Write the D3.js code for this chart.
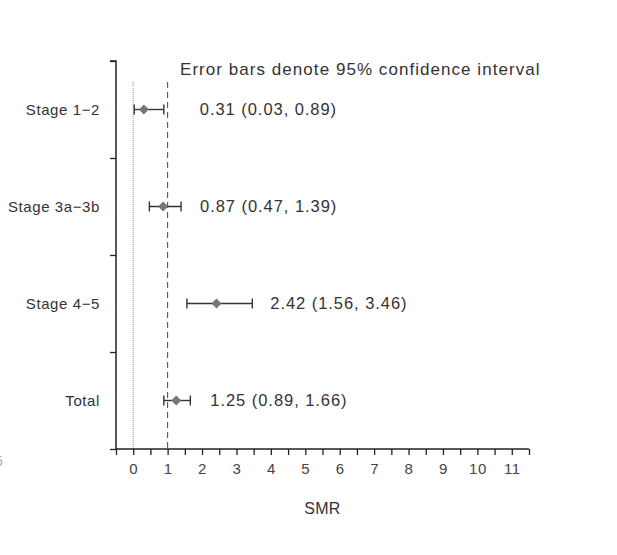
<!DOCTYPE html>
<html><head><meta charset="utf-8">
<script src="https://cdn.jsdelivr.net/npm/d3@7"></script>
<style>body{margin:0;background:#fff;}svg{display:block;font-family:"Liberation Sans",Arial,sans-serif;}</style>
</head><body><svg id="c" width="617" height="555"></svg>
<script>
const categories = ["Stage 1\u22122", "Stage 3a\u22123b", "Stage 4\u22125", "Total"];
const smr = [0.31, 0.87, 2.42, 1.25];
const lower = [0.03, 0.47, 1.56, 0.89];
const upper = [0.89, 1.39, 3.46, 1.66];
const valueLabels = ["0.31 (0.03, 0.89)", "0.87 (0.47, 1.39)", "2.42 (1.56, 3.46)", "1.25 (0.89, 1.66)"];
const xTickLabels = [0,1,2,3,4,5,6,7,8,9,10,11];
const labelGap = [36, 19, 18, 20];

const svg = d3.select("#c");
const x = d3.scaleLinear().domain([-0.5, 11.5]).range([116, 529]);
const y = d3.scaleBand().domain(categories).range([61, 449]);

// reference lines
svg.append("line").attr("x1", x(0)).attr("x2", x(0)).attr("y1", 82).attr("y2", 449)
  .attr("stroke", "#999").attr("stroke-width", 1).attr("stroke-dasharray", "1,1");
svg.append("line").attr("x1", x(1)).attr("x2", x(1)).attr("y1", 82).attr("y2", 449)
  .attr("stroke", "#444").attr("stroke-width", 1).attr("stroke-dasharray", "6,4");

// x axis
const xAxis = d3.axisBottom(x).tickValues(d3.range(-0.5, 11.51, 0.5)).tickSize(6)
  .tickFormat(d => xTickLabels.includes(d) ? d : "");
const gx = svg.append("g").attr("transform", "translate(0,449)").call(xAxis);
gx.select(".domain").attr("stroke", "#222").attr("stroke-width", 1.5).attr("d", `M${x(-0.5)},0H${x(11.5)}`);
gx.selectAll(".tick line").attr("stroke", "#222").attr("stroke-width", 1.3);
gx.selectAll(".tick text").attr("font-size", 15).attr("letter-spacing", 0.6).attr("fill", "#444").attr("dy", "1.05em").attr("font-family", "Liberation Sans, Arial, sans-serif");

// y axis
const yAxis = d3.axisLeft(d3.scaleLinear().domain([0, 4]).range([61, 449])).ticks(4).tickSize(6).tickFormat("");
const gy = svg.append("g").attr("transform", "translate(116,0)").call(yAxis);
gy.select(".domain").attr("stroke", "#222").attr("stroke-width", 1.5).attr("d", "M-6,61H0V449");
gy.selectAll(".tick line").attr("stroke", "#222").attr("stroke-width", 1.3);

// category labels
svg.selectAll(".cat").data(categories).join("text")
  .attr("x", 100).attr("y", d => y(d) + y.bandwidth()/2).attr("dy", "0.35em")
  .attr("text-anchor", "end").attr("font-size", 15).attr("letter-spacing", 0.6).attr("fill", "#333").text(d => d);

const rows = categories.map((c, i) => ({c, m: smr[i], lo: lower[i], hi: upper[i], lab: valueLabels[i], gap: labelGap[i]}));
const g = svg.append("g");
const cy = d => y(d.c) + y.bandwidth()/2;
g.selectAll(".eb").data(rows).join("line")
  .attr("x1", d => x(d.lo)).attr("x2", d => x(d.hi)).attr("y1", cy).attr("y2", cy)
  .attr("stroke", "#333").attr("stroke-width", 1.4);
g.selectAll(".capl").data(rows).join("line")
  .attr("x1", d => x(d.lo)).attr("x2", d => x(d.lo)).attr("y1", d => cy(d) - 5).attr("y2", d => cy(d) + 5)
  .attr("stroke", "#333").attr("stroke-width", 1.4);
g.selectAll(".caph").data(rows).join("line")
  .attr("x1", d => x(d.hi)).attr("x2", d => x(d.hi)).attr("y1", d => cy(d) - 5).attr("y2", d => cy(d) + 5)
  .attr("stroke", "#333").attr("stroke-width", 1.4);
g.selectAll(".pt").data(rows).join("path")
  .attr("transform", d => `translate(${x(d.m)},${cy(d)})`)
  .attr("d", "M0,-5L5,0L0,5L-5,0Z").attr("fill", "#777");
g.selectAll(".vl").data(rows).join("text")
  .attr("x", d => x(d.hi) + d.gap).attr("y", cy).attr("dy", "0.35em")
  .attr("font-size", 16.5).attr("letter-spacing", 0.95).attr("fill", "#333").text(d => d.lab);

svg.append("text").attr("x", 180).attr("y", 75).attr("font-size", 17).attr("letter-spacing", 1.05).attr("fill", "#333")
  .text("Error bars denote 95% confidence interval");
svg.append("text").attr("x", (x(-0.5)+x(11.5))/2).attr("y", 514).attr("text-anchor", "middle")
  .attr("font-size", 16).attr("letter-spacing", 0.3).attr("fill", "#333").text("SMR");
svg.append("text").attr("x", -5).attr("y", 466).attr("font-size", 14).attr("fill", "#aaa").text("5");
</script></body></html>
